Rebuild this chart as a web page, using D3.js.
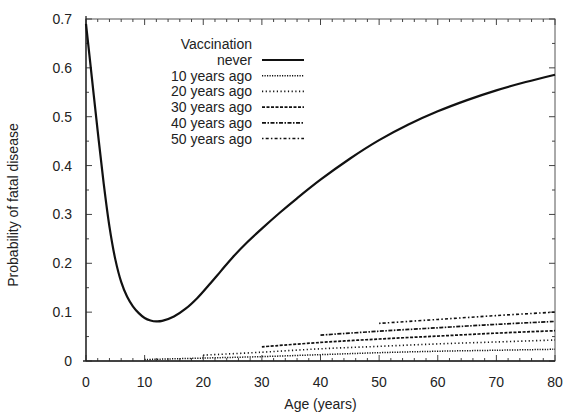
<!DOCTYPE html>
<html>
<head>
<meta charset="utf-8">
<script src="https://cdn.jsdelivr.net/npm/d3@7"></script>
<style>
  body { margin: 0; background: #fff; }
  svg { display: block; font-family: "Liberation Sans", Arial, sans-serif; }
</style>
</head>
<body>
<div id="chart"></div>
<script>
// Unvaccinated curve
const neverAges = [0, 1, 2, 3, 4, 5, 6, 7, 8, 9, 10, 11, 12, 13, 15, 17, 19, 21, 23, 25, 27.5, 30, 33, 36, 40, 45, 50, 55, 60, 65, 70, 75, 80];
const neverProb = [0.69, 0.58, 0.47, 0.365, 0.275, 0.208, 0.162, 0.132, 0.112, 0.098, 0.088, 0.083, 0.081, 0.082, 0.091, 0.107, 0.129, 0.156, 0.184, 0.212, 0.243, 0.271, 0.303, 0.333, 0.371, 0.414, 0.452, 0.484, 0.511, 0.534, 0.554, 0.571, 0.586];

// Vaccinated N years ago
const vac10Ages = [10, 20, 30, 40, 50, 60, 70, 80];
const vac10Prob = [0.003, 0.006, 0.009, 0.013, 0.017, 0.020, 0.022, 0.024];
const vac20Ages = [20, 30, 40, 50, 60, 70, 80];
const vac20Prob = [0.012, 0.018, 0.025, 0.030, 0.035, 0.039, 0.043];
const vac30Ages = [30, 40, 50, 60, 70, 80];
const vac30Prob = [0.029, 0.038, 0.045, 0.051, 0.057, 0.062];
const vac40Ages = [40, 50, 60, 70, 80];
const vac40Prob = [0.053, 0.061, 0.068, 0.075, 0.081];
const vac50Ages = [50, 60, 70, 80];
const vac50Prob = [0.077, 0.085, 0.093, 0.100];

const seriesLabels = ["never", "10 years ago", "20 years ago", "30 years ago", "40 years ago", "50 years ago"];
const xTicks = [0, 10, 20, 30, 40, 50, 60, 70, 80];
const yTicks = [0, 0.1, 0.2, 0.3, 0.4, 0.5, 0.6, 0.7];

const series = [
  {ages: neverAges, prob: neverProb, dash: null, width: 2.2},
  {ages: vac10Ages, prob: vac10Prob, dash: "1.2,1.3", width: 1.5},
  {ages: vac20Ages, prob: vac20Prob, dash: "1.2,2.5", width: 1.6},
  {ages: vac30Ages, prob: vac30Prob, dash: "3,1.5", width: 1.7},
  {ages: vac40Ages, prob: vac40Prob, dash: "4,1.5,1.5,1.5", width: 1.7},
  {ages: vac50Ages, prob: vac50Prob, dash: "1.5,2.2,3,2.2", width: 1.6}
].map((s, i) => ({...s, label: seriesLabels[i]}));

const W = 568, H = 412;
const margin = {top: 19, right: 13, bottom: 51, left: 86};
const width = W - margin.left - margin.right;
const height = H - margin.top - margin.bottom;

const svg = d3.select("#chart").append("svg")
  .attr("width", W).attr("height", H);

const g = svg.append("g")
  .attr("transform", `translate(${margin.left},${margin.top})`);

const x = d3.scaleLinear().domain([0, 80]).range([0, width]);
const y = d3.scaleLinear().domain([0, 0.7]).range([height, 0]);

const ink = "#222";

// frame
g.append("rect")
  .attr("width", width).attr("height", height)
  .attr("fill", "none").attr("stroke", "#555").attr("stroke-width", 1);

// ticks on all four sides, pointing in
const xMinor = d3.range(0, 81, 2);
const yMinor = d3.range(0, 0.701, 0.05);

const tk = g.append("g").attr("stroke", "#444").attr("stroke-width", 1);
xMinor.forEach(v => {
  const len = v % 10 === 0 ? 6 : 3;
  tk.append("line").attr("x1", x(v)).attr("x2", x(v)).attr("y1", height).attr("y2", height - len);
  tk.append("line").attr("x1", x(v)).attr("x2", x(v)).attr("y1", 0).attr("y2", len);
});
yMinor.forEach((v, i) => {
  const len = i % 2 === 0 ? 6 : 3;
  tk.append("line").attr("x1", 0).attr("x2", len).attr("y1", y(v)).attr("y2", y(v));
  tk.append("line").attr("x1", width).attr("x2", width - len).attr("y1", y(v)).attr("y2", y(v));
});

// axis lines
g.append("line").attr("x1", -3).attr("x2", width).attr("y1", height).attr("y2", height)
  .attr("stroke", ink).attr("stroke-width", 1.3);
g.append("line").attr("x1", 0).attr("x2", 0).attr("y1", -3).attr("y2", height)
  .attr("stroke", ink).attr("stroke-width", 1.3);

// tick labels
g.append("g").selectAll("text").data(xTicks).join("text")
  .attr("x", d => x(d)).attr("y", height + 26)
  .attr("text-anchor", "middle").attr("font-size", 14).attr("fill", ink)
  .text(d => d);

g.append("g").selectAll("text").data(yTicks).join("text")
  .attr("x", -14).attr("y", d => y(d) + 5)
  .attr("text-anchor", "end").attr("font-size", 14).attr("fill", ink)
  .text(d => d === 0 ? "0" : d3.format(".1f")(d));

// axis titles
svg.append("text")
  .attr("x", margin.left + width / 2).attr("y", 409)
  .attr("text-anchor", "middle").attr("font-size", 14).attr("fill", ink)
  .text("Age (years)");

svg.append("text")
  .attr("transform", "translate(18,205) rotate(-90)")
  .attr("text-anchor", "middle").attr("font-size", 14).attr("fill", ink)
  .text("Probability of fatal disease");

// lines
const line = d3.line()
  .x(d => x(d[0])).y(d => y(d[1]))
  .curve(d3.curveCatmullRom.alpha(0.5));

series.forEach(s => {
  g.append("path")
    .datum(s.ages.map((a, i) => [a, s.prob[i]]))
    .attr("d", line)
    .attr("fill", "none")
    .attr("stroke", "#111")
    .attr("stroke-width", s.width)
    .attr("stroke-dasharray", s.dash);
});

// legend
const lg = svg.append("g").attr("font-size", 14).attr("fill", ink);
const textRight = 252, rowY0 = 65, rowGap = 15.7;
lg.append("text").attr("x", textRight).attr("y", 49)
  .attr("text-anchor", "end").text("Vaccination");
series.forEach((s, i) => {
  const ry = rowY0 + i * rowGap;
  lg.append("text").attr("x", textRight).attr("y", ry)
    .attr("text-anchor", "end").text(s.label);
  lg.append("line")
    .attr("x1", 262).attr("x2", 304)
    .attr("y1", ry - 5).attr("y2", ry - 5)
    .attr("stroke", "#111").attr("stroke-width", s.width)
    .attr("stroke-dasharray", s.dash);
});
</script>
</body>
</html>
